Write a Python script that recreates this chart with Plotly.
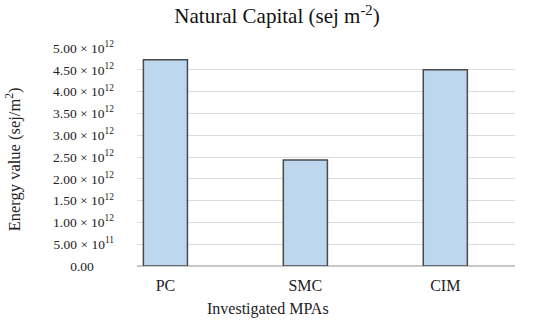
import plotly.graph_objects as go

categories = ["PC", "SMC", "CIM"]
values = [4.73e12, 2.43e12, 4.50e12]
tick_values = [0, 0.5e12, 1.0e12, 1.5e12, 2.0e12, 2.5e12, 3.0e12, 3.5e12, 4.0e12, 4.5e12, 5.0e12]
tick_labels = ["0.00\u2007\u2007\u2007", "5.00 × 10<sup>11</sup>", "1.00 × 10<sup>12</sup>", "1.50 × 10<sup>12</sup>",
               "2.00 × 10<sup>12</sup>", "2.50 × 10<sup>12</sup>", "3.00 × 10<sup>12</sup>", "3.50 × 10<sup>12</sup>",
               "4.00 × 10<sup>12</sup>", "4.50 × 10<sup>12</sup>", "5.00 × 10<sup>12</sup>"]
title_text = "Natural Capital (sej m<sup>-2</sup>)"
x_title = "Investigated MPAs"
y_title = "Energy value (sej/m<sup>2</sup>)"

FONT = "Liberation Serif, Times New Roman, serif"

fig = go.Figure(go.Bar(
    x=categories, y=values, width=0.315,
    marker=dict(color="#bdd7ee", line=dict(color="#4a4a4a", width=1.5)),
))

W, H = 550, 321
L, R, T, B = 137.3, 35, 48.3, 54.7
pw, ph = W - L - R, H - T - B

fig.update_layout(
    width=W, height=H,
    margin=dict(l=L, r=R, t=T, b=B, pad=0),
    plot_bgcolor="white", paper_bgcolor="white",
    font=dict(family=FONT, color="#222222"),
    showlegend=False,
    title=dict(text=title_text, x=277 / W, xanchor="center", y=1 - 16 / H, yanchor="middle",
               font=dict(size=21, family=FONT, color="#111111")),
    xaxis=dict(range=[-0.203, 2.498], showgrid=False, zeroline=False, showline=False,
               ticks="", tickfont=dict(size=16, family=FONT, color="#222222"), ticklabelstandoff=8),
    yaxis=dict(range=[0, 5.0001e12], tickvals=tick_values, ticktext=tick_labels,
               showgrid=True, gridcolor="#dcdcdc", gridwidth=1,
               zeroline=True, zerolinecolor="#c8c8c8", zerolinewidth=1.5,
               showline=False, ticks="", ticklabelstandoff=22,
               tickfont=dict(size=13.5, family=FONT, color="#222222")),
    annotations=[
        dict(text=x_title, xref="paper", yref="paper", x=(268 - L) / pw, y=(H - B - 309) / ph,
             xanchor="center", yanchor="middle", showarrow=False,
             font=dict(size=16, family=FONT, color="#222222")),
        dict(text=y_title, xref="paper", yref="paper", x=(14 - L) / pw, y=(H - B - 160) / ph,
             xanchor="center", yanchor="middle", showarrow=False, textangle=-90,
             font=dict(size=16.5, family=FONT, color="#222222")),
    ],
)

fig.write_html("out.html", config={"displayModeBar": False},
               post_script="document.body.style.margin='0';document.body.style.overflow='hidden';")
